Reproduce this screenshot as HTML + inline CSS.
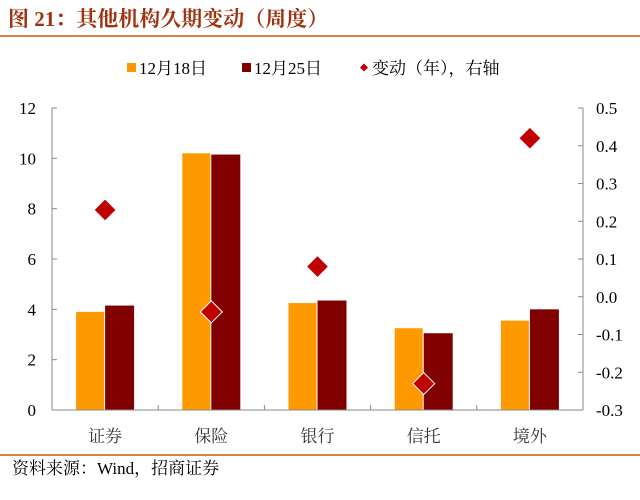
<!DOCTYPE html>
<html><head><meta charset="utf-8">
<style>
body{margin:0;background:#fff;width:640px;height:495px;overflow:hidden;font-family:"Liberation Serif","Noto Serif CJK SC",serif;}
svg text{font-family:"Liberation Serif","Noto Serif CJK SC",serif;}
</style></head>
<body>
<svg width="640" height="495">
<text x="8" y="26" font-size="21" font-weight="bold" fill="#A0330F">图 21：其他机构久期变动（周度）</text>
<line x1="0" y1="36" x2="640" y2="36" stroke="#C55A11" stroke-width="1.5"/>
<g>
<rect x="127" y="63" width="9" height="9" fill="#FF9900"/>
<text x="139" y="74" font-size="17">12月18日</text>
<rect x="242" y="63" width="9" height="9" fill="#800000"/>
<text x="254" y="74" font-size="17">12月25日</text>
<path d="M364 63.5 L368 67.5 L364 71.5 L360 67.5 Z" fill="#C00000"/>
<text x="372" y="74" font-size="17">变动（年），右轴</text>
</g>
<g id="plot"></g>
<line x1="0" y1="455" x2="640" y2="455" stroke="#C55A11" stroke-width="1.5"/>
<text x="12" y="474" font-size="17">资料来源：Wind，招商证券</text>
</svg>
<script>
const categories=["证券","保险","银行","信托","境外"];
const s1218=[3.9,10.2,4.25,3.25,3.55];
const s1225=[4.15,10.15,4.35,3.05,4.0];
const change=[0.23,-0.04,0.08,-0.23,0.42];
const leftTicks=[0,2,4,6,8,10,12];
const rightTicks=["0.5","0.4","0.3","0.2","0.1","0.0","-0.1","-0.2","-0.3"];
const X0=52,X1=583,Y0=410,Y1=108;
const NS="http://www.w3.org/2000/svg";
const g=document.getElementById('plot');
const cw=(X1-X0)/categories.length;
const yL=v=>Y0-(v/12)*(Y0-Y1);
const yR=v=>Y0-((v+0.3)/0.8)*(Y0-Y1);
function mk(t,a){const e=document.createElementNS(NS,t);for(const k in a)e.setAttribute(k,a[k]);g.appendChild(e);return e;}
categories.forEach((c,i)=>{
 const cx=X0+cw*(i+0.5);
 let r=mk('rect',{x:cx-29,y:yL(s1218[i]),width:28,height:Y0-yL(s1218[i]),fill:'#FF9900'});
 
 
 r=mk('rect',{x:cx,y:yL(s1225[i]),width:29,height:Y0-yL(s1225[i]),fill:'#800000'});
 
 
 const t=mk('text',{x:cx,y:Y0+32,'font-size':17,'text-anchor':'middle',fill:'#333'});t.textContent=c;
 
 
});
categories.forEach((c,i)=>{
 const cx=X0+cw*(i+0.5),y=yR(change[i]);
 const p=mk('path',{d:`M${cx} ${y-11} L${cx+11} ${y} L${cx} ${y+11} L${cx-11} ${y} Z`,fill:'#C00000',stroke:'#fff','stroke-width':1});
 
 
});
let a=mk('line',{x1:X0,y1:Y1,x2:X0,y2:Y0,stroke:'#888'});


a=mk('line',{x1:X1,y1:Y1,x2:X1,y2:Y0,stroke:'#888'});


a=mk('line',{x1:X0,y1:Y0,x2:X1,y2:Y0,stroke:'#888'});


for(let i=1;i<categories.length;i++){const x=X0+cw*i;mk('line',{x1:x,y1:Y0,x2:x,y2:Y0-5,stroke:'#888'});}
leftTicks.forEach(v=>{const y=yL(v);mk('line',{x1:X0,y1:y,x2:X0+5,y2:y,stroke:'#888'});
 const t=mk('text',{x:36,y:y+6,'font-size':17,'text-anchor':'end'});t.textContent=v;
 
 });
rightTicks.forEach((s,i)=>{const y=Y1+i*(Y0-Y1)/8;mk('line',{x1:X1,y1:y,x2:X1-5,y2:y,stroke:'#888'});
 const t=mk('text',{x:596,y:y+6,'font-size':17});t.textContent=s;
 
 });
</script>
</body></html>
